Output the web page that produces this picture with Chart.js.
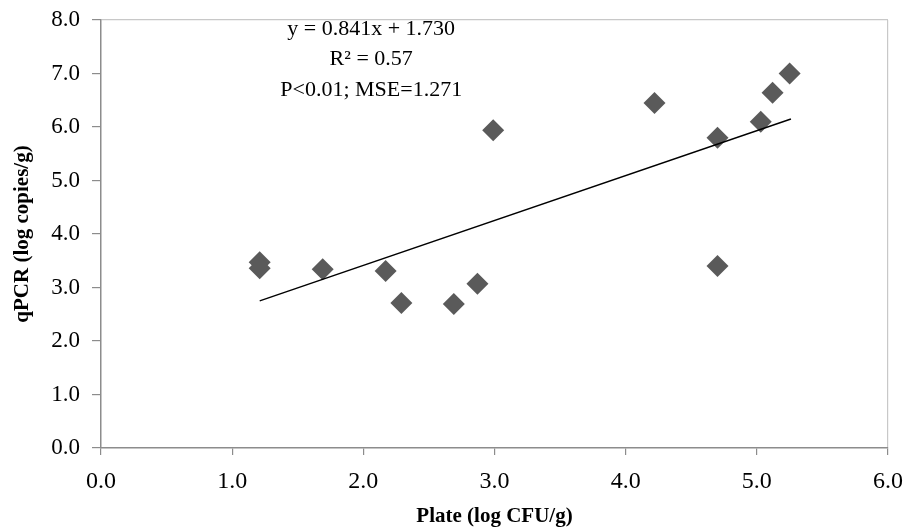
<!DOCTYPE html>
<html>
<head>
<meta charset="utf-8">
<script src="https://cdn.jsdelivr.net/npm/chart.js@4/dist/chart.umd.min.js"></script>
<style>
  html, body { margin: 0; padding: 0; background: #fff; }
  #wrap { width: 905px; height: 530px; }
</style>
</head>
<body>
<div id="wrap"><canvas id="myChart" width="905" height="530"></canvas></div>
<script>
// data
const plateX = [1.21, 1.21, 1.69, 2.17, 2.29, 2.69, 2.87, 2.99, 4.22, 4.70, 4.70, 5.03, 5.12, 5.25]
const qpcrY  = [3.47, 3.36, 3.34, 3.31, 2.71, 2.69, 3.07, 5.94, 6.45, 5.80, 3.40, 6.10, 6.64, 7.00]
// regression line ends
const trendX = [1.21, 5.26]
const trendY = [2.75, 6.15]
const xTicks = [0, 1, 2, 3, 4, 5, 6]
const yTicks = [0, 1, 2, 3, 4, 5, 6, 7, 8]
const statLines = ['y = 0.841x + 1.730', 'R\u00B2 = 0.57', 'P<0.01; MSE=1.271']

const serif = "'Liberation Serif', 'Times New Roman', serif"
const axisGray = '#8c8c8c'
const borderGray = '#c8c8c8'

// the equation block in the upper left
const statsText = {
  id: 'statsText',
  afterDatasetsDraw(chart) {
    const ctx = chart.ctx
    const xs = chart.scales.x, ys = chart.scales.y
    ctx.save()
    ctx.font = '22px ' + serif
    ctx.fillStyle = '#000'
    ctx.textAlign = 'center'
    ctx.textBaseline = 'middle'
    const cx = xs.getPixelForValue(2.06)
    statLines.forEach((t, i) => {
      ctx.fillText(t, cx, ys.getPixelForValue(7.83 - i * 0.57))
    })
    ctx.restore()
  }
}

new Chart(document.getElementById('myChart'), {
  type: 'scatter',
  data: {
    datasets: [
      {
        label: 'Samples',
        data: plateX.map((x, i) => ({ x: x, y: qpcrY[i] })),
        pointStyle: 'rectRot',
        pointRadius: 11,
        pointHoverRadius: 11,
        backgroundColor: '#5a5a5a',
        borderColor: '#5a5a5a',
        borderWidth: 0,
        order: 2
      },
      {
        label: 'Fit',
        type: 'line',
        data: trendX.map((x, i) => ({ x: x, y: trendY[i] })),
        borderColor: '#000',
        borderWidth: 1.4,
        pointRadius: 0,
        fill: false,
        order: 1
      }
    ]
  },
  options: {
    responsive: false,
    animation: false,
    layout: { padding: { top: 20, right: 17, left: 0, bottom: 0 } },
    plugins: {
      legend: { display: false },
      tooltip: { enabled: false }
    },
    scales: {
      x: {
        type: 'linear',
        min: 0, max: 6,
        afterBuildTicks: s => { s.ticks = xTicks.map(v => ({ value: v })) },
        afterFit: s => { s.height = 82; s.paddingLeft = 0; s.paddingRight = 0 },
        border: { color: axisGray, width: 1.5 },
        grid: {
          drawOnChartArea: true,
          color: c => (c.tick && c.tick.value === 6 ? borderGray : 'rgba(0,0,0,0)'),
          tickColor: axisGray,
          tickLength: 7,
          lineWidth: 1.2
        },
        ticks: {
          color: '#000',
          padding: 12,
          maxRotation: 0,
          font: { family: serif, size: 24 },
          callback: v => Number(v).toFixed(1)
        },
        title: {
          display: true,
          text: 'Plate (log CFU/g)',
          color: '#000',
          padding: { top: 0, bottom: 1 },
          font: { family: serif, size: 21, weight: 'bold' }
        }
      },
      y: {
        type: 'linear',
        min: 0, max: 8,
        afterBuildTicks: s => { s.ticks = yTicks.map(v => ({ value: v })) },
        afterFit: s => { s.width = 101; s.paddingTop = 0; s.paddingBottom = 0 },
        border: { color: axisGray, width: 1.5 },
        grid: {
          drawOnChartArea: true,
          color: c => (c.tick && c.tick.value === 8 ? borderGray : 'rgba(0,0,0,0)'),
          tickColor: axisGray,
          tickLength: 9,
          lineWidth: 1.2
        },
        ticks: {
          color: '#000',
          padding: 12,
          font: { family: serif, size: 23 },
          callback: v => Number(v).toFixed(1)
        },
        title: {
          display: true,
          text: 'qPCR (log copies/g)',
          color: '#000',
          padding: { top: 10, bottom: 0 },
          font: { family: serif, size: 21, weight: 'bold' }
        }
      }
    }
  },
  plugins: [statsText]
})
</script>
</body>
</html>
